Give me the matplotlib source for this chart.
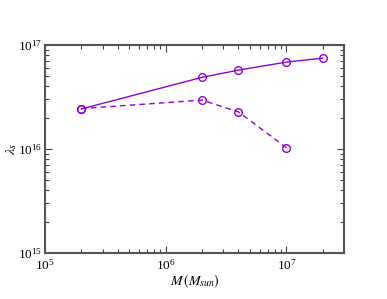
import matplotlib
matplotlib.use("Agg")
import matplotlib.pyplot as plt
from matplotlib.ticker import LogLocator, NullFormatter

plt.rcParams['font.family'] = ['Liberation Serif', 'DejaVu Serif']
plt.rcParams['mathtext.fontset'] = 'stix'

mass = [2e5, 2e6, 4e6, 1e7, 2e7]
lam_solid = [2.43e16, 4.9e16, 5.75e16, 6.87e16, 7.5e16]
mass_dash = [2e5, 2e6, 4e6, 1e7]
lam_dash = [2.45e16, 2.96e16, 2.28e16, 1.03e16]

color = '#9400D3'

fig = plt.figure(figsize=(3.87, 2.99), dpi=100)
ax = fig.add_axes([0.116, 0.154, 0.773, 0.695])
ax.plot(mass, lam_solid, '-', color=color, lw=1.0, marker='o', ms=5.5,
        mfc='none', mec=color, mew=1.0)
ax.plot(mass_dash, lam_dash, '--', color=color, lw=1.0, dashes=(4, 3), marker='o', ms=5.5,
        mfc='none', mec=color, mew=1.0)
ax.set_xscale('log')
ax.set_yscale('log')
ax.set_xlim(1e5, 3e7)
ax.set_ylim(1e15, 1e17)
ax.xaxis.set_major_locator(LogLocator(base=10, numticks=10))
ax.yaxis.set_major_locator(LogLocator(base=10, numticks=10))
ax.xaxis.set_minor_locator(LogLocator(base=10, subs=range(2, 10), numticks=20))
ax.yaxis.set_minor_locator(LogLocator(base=10, subs=range(2, 10), numticks=20))
ax.xaxis.set_minor_formatter(NullFormatter())
ax.yaxis.set_minor_formatter(NullFormatter())
ax.tick_params(which='both', direction='in', top=True, right=True, colors='#444444',
               labelcolor='black', labelsize=9.5)
ax.tick_params(which='major', length=5, width=0.8)
ax.tick_params(which='minor', length=3, width=0.8)
ax.tick_params(axis='y', which='both', pad=2)
for s in ax.spines.values():
    s.set_color('#555555')
    s.set_linewidth(1.5)
ax.set_xlabel(r'$M\,(M_{sun})$', fontsize=10, labelpad=0)
ax.set_ylabel(r'$\lambda_s$', fontsize=10)
ax.yaxis.set_label_coords(-0.088, 0.5)
fig.savefig('out.png', dpi=100)
